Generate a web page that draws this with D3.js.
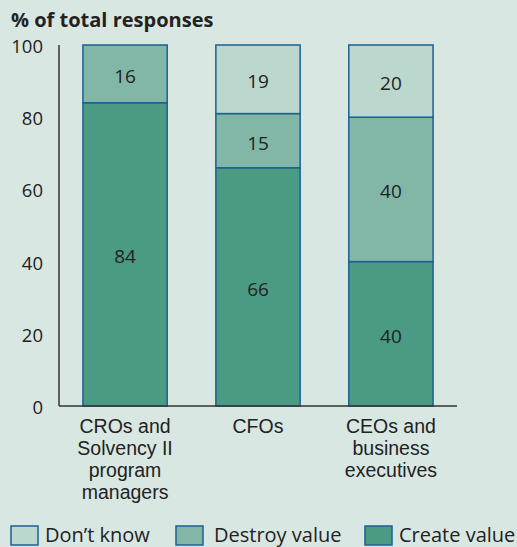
<!DOCTYPE html>
<html>
<head>
<meta charset="utf-8">
<script src="https://cdn.jsdelivr.net/npm/d3@7"></script>
<style>
  html, body { margin: 0; padding: 0; background: #d9e7e2; }
  svg { display: block; }
  text { font-family: "Open Sans", sans-serif; fill: #222; }
</style>
</head>
<body>
<svg id="chart" width="517" height="547"></svg>
<script>
const categories = [
  ["CROs and", "Solvency II", "program", "managers"],
  ["CFOs"],
  ["CEOs and", "business", "executives"]
];
const categoryKeys = ["CROs", "CFOs", "CEOs"];
const createValue = [84, 66, 40];
const destroyValue = [16, 15, 40];
const dontKnow = [0, 19, 20];
const seriesNames = ["Create value", "Destroy value", "Don\u2019t know"];
const yTicks = [0, 20, 40, 60, 80, 100];
const title = "% of total responses";

const colors = {
  "Create value": "#4b9a83",
  "Destroy value": "#82b7a8",
  "Don\u2019t know": "#bbd7ce"
};
const strokeColor = "#1d6092";

const svg = d3.select("#chart");
svg.append("rect").attr("width", 517).attr("height", 547).attr("fill", "#d9e7e2");

const x = d3.scaleBand().domain(categoryKeys).range([59, 457])
  .paddingInner(0.366).paddingOuter(0.18);
const y = d3.scaleLinear().domain([0, 100]).range([406, 45]);

// title
svg.append("text").attr("x", 11).attr("y", 27)
  .style("font-weight", "bold").style("font-size", "20px")
  .text(title);

// data table
const table = categoryKeys.map((k, i) => ({
  key: k,
  "Create value": createValue[i],
  "Destroy value": destroyValue[i],
  "Don\u2019t know": dontKnow[i]
}));
const stack = d3.stack().keys(seriesNames)(table);

const g = svg.append("g");
stack.forEach(layer => {
  layer.forEach(d => {
    const v = d[1] - d[0];
    if (v <= 0) return;
    g.append("rect")
      .attr("x", x(d.data.key))
      .attr("width", x.bandwidth())
      .attr("y", y(d[1]))
      .attr("height", y(d[0]) - y(d[1]))
      .attr("fill", colors[layer.key])
      .attr("stroke", strokeColor)
      .attr("stroke-width", 1.5);
    g.append("text")
      .attr("x", x(d.data.key) + x.bandwidth() / 2)
      .attr("y", (y(d[0]) + y(d[1])) / 2 + 2)
      .attr("text-anchor", "middle")
      .attr("dominant-baseline", "central")
      .style("font-size", "19px")
      .text(v);
  });
});

// y axis
const yAxis = d3.axisLeft(y).tickValues(yTicks).tickSize(0).tickPadding(16);
const ya = svg.append("g").attr("transform", "translate(59,0)").call(yAxis);
ya.select(".domain").attr("stroke", "#333").attr("stroke-width", 1.5).attr("d", "M0,45V406");
ya.selectAll("text").style("font-family", "Open Sans, sans-serif").style("font-size", "18.5px")
  .attr("fill", "#222").attr("dy", "0.4em");

// x axis baseline
const xAxis = d3.axisBottom(x).tickSize(0).tickFormat("");
const xa = svg.append("g").attr("transform", "translate(0,406)").call(xAxis);
xa.select(".domain").attr("stroke", "#333").attr("stroke-width", 1.5).attr("d", "M59,0H457");

// category labels (one text per line)
categoryKeys.forEach((k, i) => {
  categories[i].forEach((line, j) => {
    svg.append("text")
      .attr("x", x(k) + x.bandwidth() / 2)
      .attr("y", 433 + j * 22)
      .attr("text-anchor", "middle")
      .style("font-family", "'Liberation Sans', sans-serif")
      .style("font-size", "19.5px")
      .text(line);
  });
});

// legend
const legendItems = [
  { name: "Don\u2019t know", bx: 11, tx: 45 },
  { name: "Destroy value", bx: 176, tx: 214 },
  { name: "Create value", bx: 365, tx: 399 }
];
legendItems.forEach(it => {
  svg.append("rect").attr("x", it.bx).attr("y", 526).attr("width", 27).attr("height", 19)
    .attr("fill", colors[it.name]).attr("stroke", strokeColor).attr("stroke-width", 1.5);
  svg.append("text").attr("x", it.tx).attr("y", 542).style("font-size", "20px").text(it.name);
});
</script>
</body>
</html>
